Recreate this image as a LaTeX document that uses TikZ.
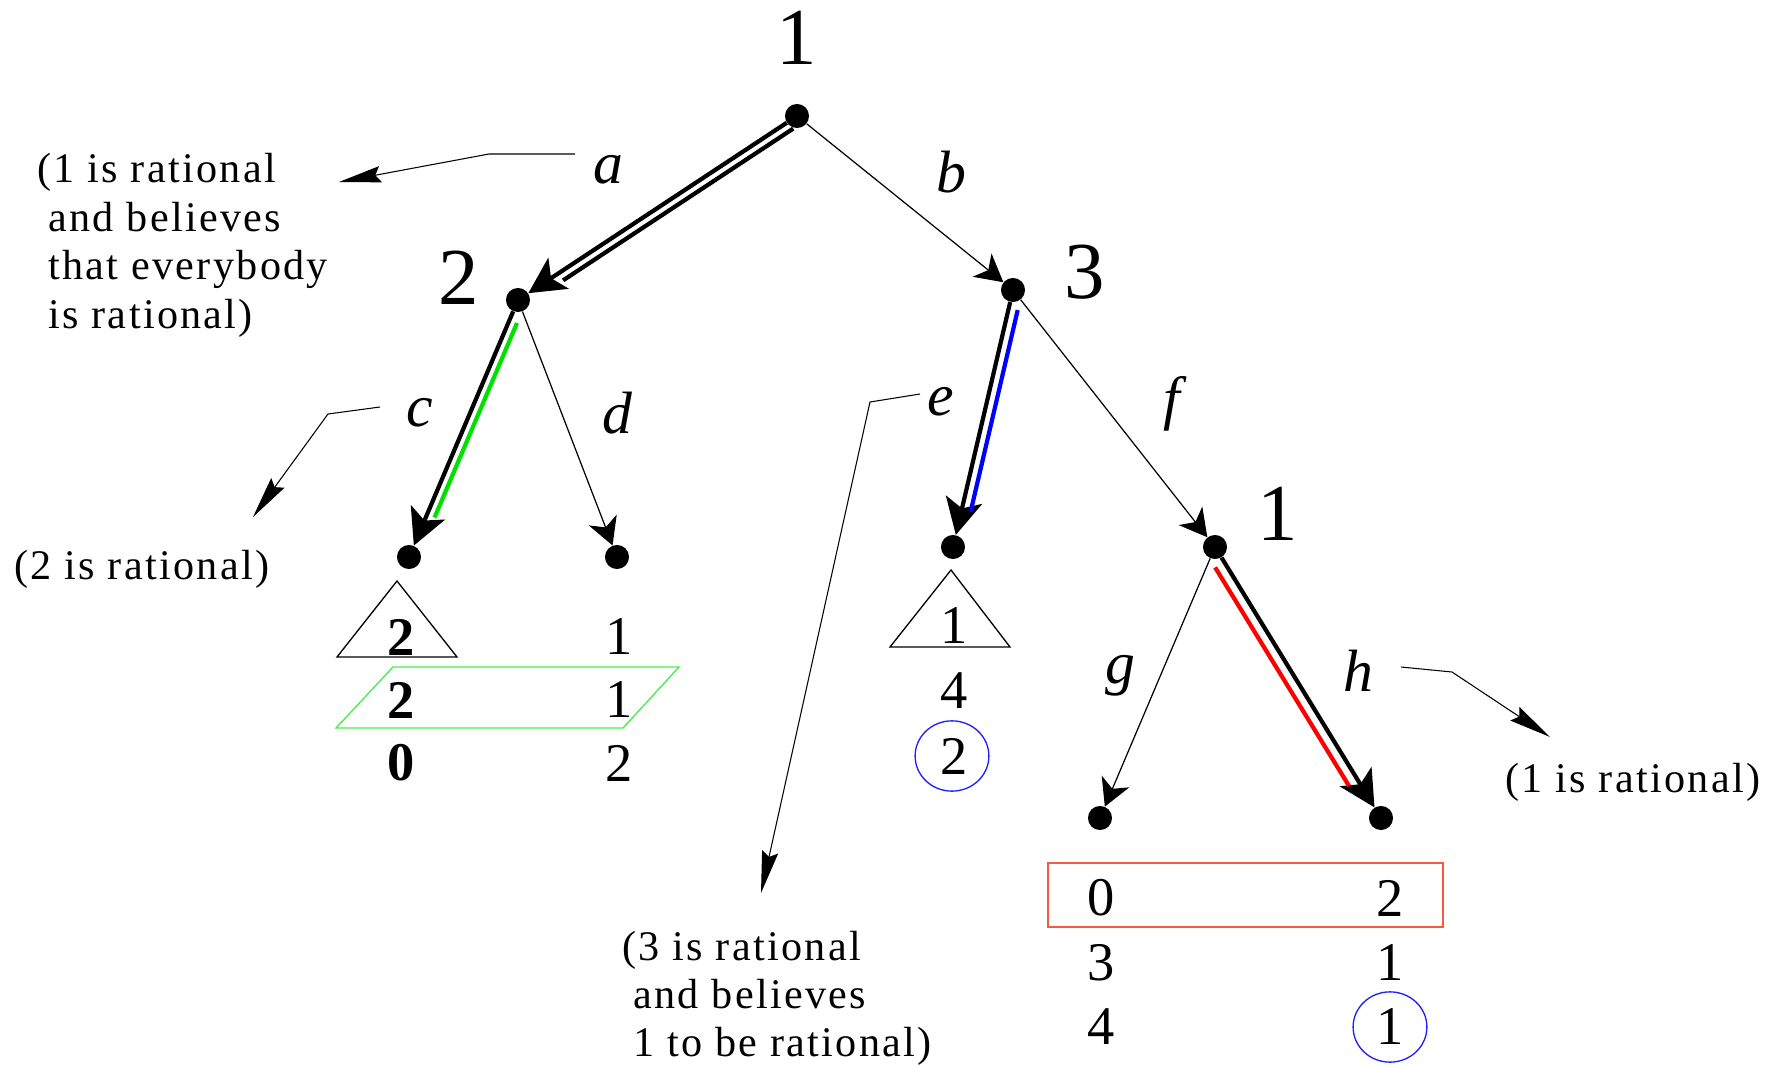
\documentclass[tikz,border=0pt]{standalone}
\usepackage{fontspec}
\setmainfont{Liberation Serif}
\newfontfamily\annotfont[LetterSpace=5.5]{Liberation Serif}
\usetikzlibrary{arrows.meta,calc}
\definecolor{edgegreen}{RGB}{0,225,0}
\definecolor{boxgreen}{RGB}{70,240,70}
\definecolor{boxred}{RGB}{250,90,60}
\definecolor{ringblue}{RGB}{30,30,255}
\begin{document}
\begin{tikzpicture}[x=0.02cm,y=-0.02cm,
  dot/.style={circle,fill=black,inner sep=0pt,minimum size=13.7pt},
  player/.style={font=\fontsize{46}{50}\selectfont,inner sep=0pt},
  move/.style={font=\fontsize{34}{38}\selectfont\itshape,inner sep=0pt},
  pay/.style={font=\fontsize{31}{34}\selectfont,inner sep=0pt},
  bpay/.style={font=\fontsize{31}{34}\selectfont\bfseries,inner sep=0pt},
  note/.style={font=\fontsize{24}{27.7}\selectfont\annotfont,inner sep=0pt,anchor=base west},
  thinarrow/.style={line width=0.7pt,-{Stealth[length=15.5pt,width=17pt,inset=4.5pt]}},
  thickarrow/.style={line width=2.4pt,-{Stealth[length=20.5pt,width=21pt,inset=5pt]}},
  rail/.style={line width=2.4pt},
  notearrow/.style={line width=0.6pt,-{Stealth[length=24pt,width=9.3pt,inset=3pt]}},
  thinbox/.style={line width=0.75pt}
]
\useasboundingbox (0,0) rectangle (1776,1065);

% decision nodes and leaves
\node[dot] (r)  at (797,116) {};
\node[dot] (n2) at (518,300) {};
\node[dot] (n3) at (1013,290) {};
\node[dot] (lc) at (409,557) {};
\node[dot] (ld) at (617,557) {};
\node[dot] (le) at (953,547) {};
\node[dot] (n1) at (1215,547) {};
\node[dot] (lg) at (1100,818) {};
\node[dot] (lh) at (1381,818) {};

% player labels
\node[player] (p1)  at (797,38)  {1};
\node[player] (p2)  at (459,278) {2};
\node[player] (p3)  at (1085,272) {3};
\node[player] (p1b) at (1278,514) {1};

% move labels
\node[move] (ma) at (608,170) {a};
\node[move] (mb) at (951,172) {b};
\node[move] (mc) at (420,413) {c};
\node[move] (md) at (617,413) {d};
\node[move] (me) at (941,402) {e};
\node[move] (mf) at (1172,404) {f};
\node[move] (mg) at (1120,676) {g};
\node[move] (mh) at (1358,671) {h};

% thin edges
\draw[thinarrow] (r) -- (n3);
\draw[thinarrow] (n2) -- (ld);
\draw[thinarrow] (n3) -- (n1);
\draw[thinarrow] (n1) -- (lg);

% thick edges with parallel rails
\draw[thickarrow] (r) -- (n2);
\draw[rail] ($(r)!0.03!(n2)!4.8pt!90:(n2)$) -- ($(r)!0.855!(n2)!4.8pt!90:(n2)$);
\draw[thickarrow] (n2) -- (lc);
\draw[rail,edgegreen] ($(n2)!0.077!(lc)!4.6pt!90:(lc)$) -- ($(n2)!0.834!(lc)!4.6pt!90:(lc)$);
\draw[thickarrow] (n3) -- (le);
\draw[rail,blue] ($(n3)!0.07!(le)!5.2pt!90:(le)$) -- ($(n3)!0.855!(le)!5.2pt!90:(le)$);
\draw[thickarrow] (n1) -- (lh);
\draw[rail,red] ($(n1)!0.055!(lh)!6pt!-90:(lh)$) -- ($(n1)!0.862!(lh)!6pt!-90:(lh)$);

% payoffs under c and d
\node[bpay] (c1) at (401,637) {2};
\node[pay]  (d1) at (619,637) {1};
\node[bpay] (c2) at (401,700) {2};
\node[pay]  (d2) at (619,700) {1};
\node[bpay] (c3) at (401,763) {0};
\node[pay]  (d3) at (619,763) {2};
\draw[thinbox] (397,581) -- (457,657) -- (337,657) -- cycle;
\draw[thinbox,boxgreen] (393,667) -- (679,667) -- (623,728) -- (336,728) -- cycle;

% payoffs under e
\node[pay] (e1) at (954,626) {1};
\node[pay] (e2) at (954,691) {4};
\node[pay] (e3) at (954,756) {2};
\draw[thinbox] (951,570) -- (1010,647) -- (890,647) -- cycle;
\draw[thinbox,ringblue] (952,756) ellipse [x radius=21pt, y radius=20pt];

% payoffs under g and h
\node[pay] (g1) at (1101,898) {0};
\node[pay] (h1) at (1390,898) {2};
\node[pay] (g2) at (1101,963) {3};
\node[pay] (h2) at (1390,963) {1};
\node[pay] (g3) at (1101,1027) {4};
\node[pay] (h3) at (1390,1027) {1};
\draw[thinbox,boxred] (1048,863) rectangle (1443,927);
\draw[thinbox,ringblue] (1390,1027) ellipse [x radius=21pt, y radius=20pt];

% annotations
\node[note] (t1a) at (37,182) {(1 is rational};
\node[note] (t1b) at (48,231) {and believes};
\node[note] (t1c) at (48,279) {that everybody};
\node[note] (t1d) at (48,328) {is rational)};
\node[note] (t2)  at (14,579) {(2 is rational)};
\node[note] (t3a) at (622,960) {(3 is rational};
\node[note] (t3b) at (633,1008) {and believes};
\node[note] (t3c) at (633,1056) {1 to be rational)};
\node[note] (t4)  at (1505,792) {(1 is rational)};

\coordinate (sa) at (575,154); \coordinate (ka) at (489,154); \coordinate (ta) at (339,182);
\coordinate (sc) at (380,407); \coordinate (kc) at (328,414); \coordinate (tc) at (253,517);
\coordinate (se) at (920,394); \coordinate (ke) at (870,402); \coordinate (te) at (761,893);
\coordinate (sh) at (1401,667); \coordinate (kh) at (1452,672); \coordinate (th) at (1550,737);
\draw[notearrow] (sa) -- (ka) -- (ta);
\draw[notearrow] (sc) -- (kc) -- (tc);
\draw[notearrow] (se) -- (ke) -- (te);
\draw[notearrow] (sh) -- (kh) -- (th);
\end{tikzpicture}
\end{document}
